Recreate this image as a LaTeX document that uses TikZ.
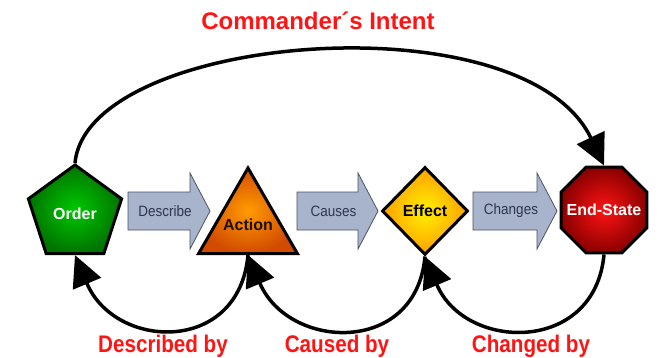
\documentclass[tikz,border=0pt]{standalone}
\usepackage{fontspec}
\setmainfont{Liberation Sans}
\newfontfamily\condensedsans[FakeStretch=0.86]{Liberation Sans}
\newfontfamily\arrowsans[FakeStretch=0.9]{Liberation Sans}
\usetikzlibrary{shapes.geometric, arrows.meta}

\definecolor{intentred}{HTML}{FF1414}
\definecolor{blockfill}{HTML}{A8B4CC}
\definecolor{blockline}{HTML}{4A5266}
\definecolor{blocktext}{HTML}{2E3550}

\tikzset{
  shapebase/.style={draw=black, line width=3pt, inner sep=0pt,
    font=\bfseries\fontsize{16}{18}\selectfont},
  ordershape/.style={shapebase, regular polygon, regular polygon sides=5,
    minimum size=98pt, inner color={rgb,255:red,0;green,200;blue,0},
    outer color={rgb,255:red,0;green,115;blue,0}, text=white},
  actionshape/.style={shapebase, regular polygon, regular polygon sides=3,
    minimum size=114pt, inner color={rgb,255:red,255;green,155;blue,0},
    outer color={rgb,255:red,210;green,75;blue,0}, text={rgb,255:red,30;green,15;blue,0}},
  effectshape/.style={shapebase, diamond, minimum width=86pt, minimum height=88pt,
    inner color={rgb,255:red,255;green,240;blue,0},
    outer color={rgb,255:red,255;green,160;blue,0}, text=black},
  endshape/.style={shapebase, regular polygon, regular polygon sides=8,
    minimum size=93pt, inner color={rgb,255:red,255;green,20;blue,20},
    outer color={rgb,255:red,140;green,0;blue,0}, text=white},
  flow/.style={line width=3.5pt, -{Triangle[length=31pt,width=30pt]}},
  blockarrow/.style={fill=blockfill, draw=blockline, line width=0.8pt},
  blocklabel/.style={text=blocktext, font=\arrowsans\fontsize{15}{17}\selectfont, inner sep=0pt},
  redlabel/.style={text=intentred, font=\condensedsans\bfseries\fontsize{24}{28}\selectfont,
    inner sep=0pt, anchor=base},
  titlelabel/.style={text=intentred, font=\bfseries\fontsize{24}{28}\selectfont,
    inner sep=0pt, anchor=base}
}

% block arrow: name, left x, tip x, text
\newcommand\flowblock[4]{%
  \draw[blockarrow] (#2,165) -- (#3-20,165) -- (#3-20,184) -- (#3,146)
    -- (#3-20,108) -- (#3-20,127) -- (#2,127) -- cycle;
  \node[blocklabel] (#1) at ({(#2+#3)/2-4},146) {#4};
}
% zero-width centred text, so that the shape size comes from minimum size only
\newcommand\stagetext[1]{\makebox[0pt]{#1}}

\begin{document}
\begin{tikzpicture}[x=1pt,y=1pt]
  \fill[white] (0,0) rectangle (659,357);
  \useasboundingbox (0,0) rectangle (659,357);

  % title
  \node[titlelabel] (title) at (318,327) {Commander´s Intent};

  % the four stages
  \node[ordershape]  (order)    at (75,143)  {\stagetext{Order}};
  \node[actionshape] (action)   at (248,132) {\stagetext{Action}};
  \node[effectshape] (effect)   at (425,146) {\stagetext{Effect}};
  \node[endshape]    (endstate) at (604,147) {\stagetext{End-State}};

  % forward block arrows
  \flowblock{describe}{128}{210}{Describe}
  \flowblock{causes}{297}{378}{Causes}
  \flowblock{changes}{473}{557}{Changes}

  % intent arc
  \draw[flow] (order.north) .. controls +(12,130) and +(-80,168) .. (endstate.north);

  % backward arcs
  \draw[flow] (action.south) .. controls +(-9,-100) and +(40,-95) .. (order.south);
  \draw[flow] (effect.south) .. controls +(-9,-100) and +(40,-95) .. (action.south);
  \draw[flow] (endstate.south) .. controls +(-9,-100) and +(40,-95) .. (effect.south);

  % arc labels
  \node[redlabel] (describedby) at (163,5) {Described by};
  \node[redlabel] (causedby)    at (337,5) {Caused by};
  \node[redlabel] (changedby)   at (531,5) {Changed by};
\end{tikzpicture}
\end{document}
